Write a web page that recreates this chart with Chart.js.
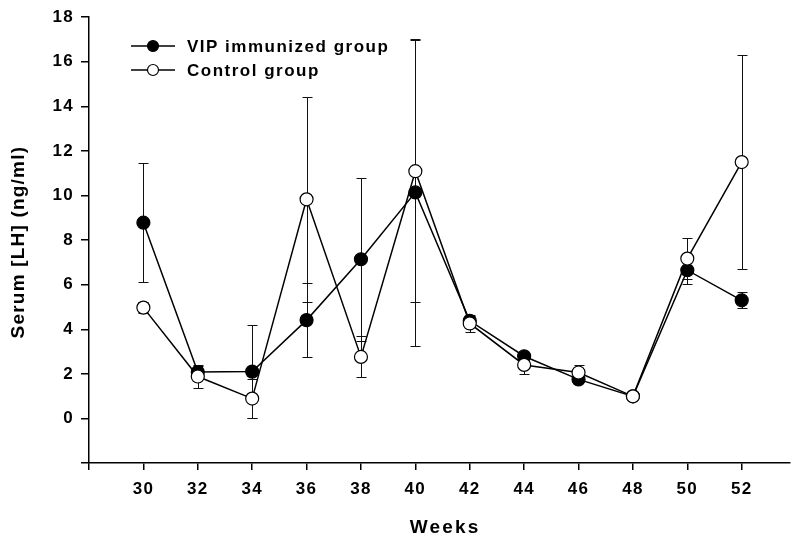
<!DOCTYPE html>
<html>
<head>
<meta charset="utf-8">
<script src="https://cdn.jsdelivr.net/npm/chart.js@4.4.1/dist/chart.umd.min.js"></script>
<style>
  html, body { margin: 0; padding: 0; background: #fff; }
  canvas { display: block; }
</style>
</head>
<body>
<canvas id="lhChart" width="797" height="539"></canvas>
<script>
const weeks = [30, 32, 34, 36, 38, 40, 42, 44, 46, 48, 50, 52];
const vipMean = [8.78, 2.08, 2.1, 4.41, 7.14, 10.14, 4.38, 2.79, 1.75, 0.99, 6.65, 5.3];
const vipSem = [2.67, 0.27, 2.1, 1.66, 3.66, 6.88, 0.2, 0.15, 0.1, 0.05, 0.6, 0.36];
const controlMean = [4.97, 1.88, 0.89, 9.83, 2.76, 11.09, 4.26, 2.4, 2.06, 0.99, 7.17, 11.5];
const controlSem = [0.24, 0.51, 0.89, 4.6, 0.92, 5.88, 0.4, 0.4, 0.35, 0.05, 0.92, 4.8];
const xTicks = [28, 30, 32, 34, 36, 38, 40, 42, 44, 46, 48, 50, 52];
const yTicks = [-2, 0, 2, 4, 6, 8, 10, 12, 14, 16, 18];
const seriesNames = ["VIP immunized group", "Control group"];

const fontFamily = '"Liberation Sans", Arial, sans-serif';

function points(mean) {
  return weeks.map((week, i) => ({ x: week, y: mean[i] }));
}

const errorBars = {
  id: "errorBars",
  beforeDatasetsDraw(chart) {
    const { ctx } = chart;
    const x = chart.scales.x;
    const y = chart.scales.y;
    ctx.save();
    ctx.strokeStyle = "#111";
    ctx.lineWidth = 1;
    for (const [mean, sem] of [[vipMean, vipSem], [controlMean, controlSem]]) {
      weeks.forEach((week, i) => {
        const px = Math.round(x.getPixelForValue(week)) + 0.5;
        const top = Math.round(y.getPixelForValue(mean[i] + sem[i])) + 0.5;
        const bottom = Math.round(y.getPixelForValue(mean[i] - sem[i])) + 0.5;
        ctx.beginPath();
        ctx.moveTo(px, top);
        ctx.lineTo(px, bottom);
        ctx.moveTo(px - 5, top);
        ctx.lineTo(px + 5, top);
        ctx.moveTo(px - 5, bottom);
        ctx.lineTo(px + 5, bottom);
        ctx.stroke();
      });
    }
    ctx.restore();
  }
};

const titlesAndLegend = {
  id: "titlesAndLegend",
  beforeDraw(chart) {
    chart.ctx.letterSpacing = "1.3px";
  },
  afterDraw(chart) {
    const { ctx, chartArea } = chart;
    ctx.save();
    ctx.fillStyle = "#000";

    // axis titles
    ctx.font = `bold 19px ${fontFamily}`;
    ctx.letterSpacing = "2.2px";
    ctx.textAlign = "center";
    ctx.textBaseline = "middle";
    ctx.fillText("Weeks", (chartArea.left + chartArea.right) / 2 + 6, 528);

    ctx.letterSpacing = "1.2px";
    ctx.translate(19, (chartArea.top + chartArea.bottom) / 2 + 2);
    ctx.rotate(-Math.PI / 2);
    ctx.fillText("Serum [LH] (ng/ml)", 0, 0);
    ctx.setTransform(1, 0, 0, 1, 0, 0);

    // legend
    const fills = ["#000", "#fff"];
    ctx.font = `bold 17px ${fontFamily}`;
    ctx.letterSpacing = "1.5px";
    ctx.textAlign = "left";
    seriesNames.forEach((name, i) => {
      const rowY = 46 + i * 24;
      ctx.strokeStyle = "#000";
      ctx.lineWidth = 1.5;
      ctx.beginPath();
      ctx.moveTo(131, rowY);
      ctx.lineTo(175, rowY);
      ctx.stroke();
      ctx.beginPath();
      ctx.arc(153, rowY, 5.5, 0, Math.PI * 2);
      ctx.fillStyle = fills[i];
      ctx.fill();
      ctx.lineWidth = 1.2;
      ctx.stroke();
      ctx.fillStyle = "#000";
      ctx.fillText(name, 187, rowY + 1);
    });
    ctx.restore();
  }
};

new Chart(document.getElementById("lhChart").getContext("2d"), {
  type: "line",
  data: {
    datasets: [
      {
        label: seriesNames[1],
        data: points(controlMean),
        borderColor: "#000",
        borderWidth: 1.5,
        pointRadius: 6.5,
        pointBorderWidth: 1.2,
        pointBackgroundColor: "#fff",
        pointBorderColor: "#000",
        tension: 0
      },
      {
        label: seriesNames[0],
        data: points(vipMean),
        borderColor: "#000",
        borderWidth: 1.5,
        pointRadius: 6.5,
        pointBorderWidth: 1.2,
        pointBackgroundColor: "#000",
        pointBorderColor: "#000",
        tension: 0
      }
    ]
  },
  options: {
    responsive: false,
    animation: false,
    layout: { padding: { top: 14, right: 0, bottom: 0, left: 0 } },
    plugins: {
      legend: { display: false },
      tooltip: { enabled: false }
    },
    scales: {
      x: {
        type: "linear",
        min: 28,
        max: 53.75,
        afterBuildTicks: scale => { scale.ticks = xTicks.map(value => ({ value })); },
        afterFit: scale => { scale.height = 76; },
        border: { color: "#000", width: 1.5 },
        grid: { drawOnChartArea: false, drawTicks: true, tickLength: 7, color: "#000", lineWidth: 1.5 },
        ticks: {
          autoSkip: false,
          maxRotation: 0,
          padding: 9,
          color: "#000",
          font: { family: fontFamily, size: 17, weight: "bold" },
          callback: value => (value === 28 ? "" : value)
        }
      },
      y: {
        min: -2,
        max: 18,
        afterBuildTicks: scale => { scale.ticks = yTicks.map(value => ({ value })); },
        afterFit: scale => { scale.width = 89; },
        border: { color: "#000", width: 1.5 },
        grid: { drawOnChartArea: false, drawTicks: true, tickLength: 8, color: "#000", lineWidth: 1.5 },
        ticks: {
          padding: 7,
          color: "#000",
          font: { family: fontFamily, size: 17, weight: "bold" },
          callback: value => (value === -2 ? "" : value)
        }
      }
    }
  },
  plugins: [errorBars, titlesAndLegend]
});
</script>
</body>
</html>
